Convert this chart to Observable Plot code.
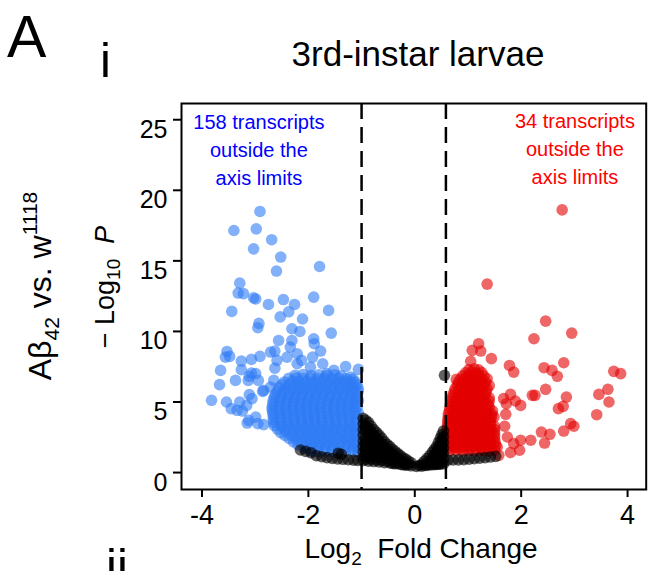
<!DOCTYPE html>
<html>
<head>
<meta charset="utf-8">
<script src="https://cdn.jsdelivr.net/npm/d3@7"></script>
<script src="https://cdn.jsdelivr.net/npm/@observablehq/plot@0.6"></script>
<style>
  html, body { margin: 0; padding: 0; background: #fff; }
  svg { display: block; }
</style>
</head>
<body>
<div id="chart"></div>
<script>
// ---- data (log2 fold change, -log10 P) ----
const xTicks = [-4, -2, 0, 2, 4];
const yTicks = [0, 5, 10, 15, 20, 25];
const foldCutoffs = [-1, 0.585];

const downregulated = [
  [-2.91,18.5],[-3.40,17.15],[-2.98,17.27],[-2.69,16.5],[-3.03,15.85],[-2.52,15.27],[-2.60,14.28],[-1.79,14.6],
  [-3.29,13.42],[-3.32,12.72],[-3.22,12.68],[-3.03,12.38],[-2.99,12.3],[-2.75,11.91],[-2.47,12.26],[-2.26,11.91],
  [-2.37,11.39],[-1.90,12.43],[-1.62,11.49],[-3.44,11.42],[-2.53,11.03],[-2.11,10.88],[-2.93,10.57],[-2.95,10.26],
  [-2.31,10.19],[-2.16,10.0],[-1.57,9.88],[-2.56,9.36],[-2.31,9.36],[-1.90,9.48],[-1.89,9.13],[-2.34,8.89],
  [-1.77,8.61],[-3.53,8.58],[-3.56,8.18],[-3.48,8.23],[-2.71,8.54],[-2.63,8.61],[-2.91,8.23],[-3.07,8.02],
  [-3.26,7.9],[-2.21,8.42],[-2.13,7.95],[-2.59,7.95],[-1.92,8.18],[-1.73,7.71],[-1.30,7.52],[-1.06,7.31],
  [-3.65,7.24],[-3.26,7.29],[-2.63,7.4],[-3.07,7.05],[-2.99,7.01],[-3.11,6.82],[-3.37,6.53],[-3.13,6.53],
  [-2.94,6.53],[-3.67,6.23],[-2.86,5.75],[-3.11,5.52],[-3.82,5.12],[-3.54,5.0],[-3.29,5.0],[-3.06,5.24],
  [-3.45,4.53],[-3.34,4.41],[-3.24,4.36],[-3.16,4.76],[-3.12,3.7],[-3.15,3.51],[-2.95,3.47],[-2.84,3.4],
  [-2.99,3.93],[-2.40,8.18],[-2.21,7.71],[-1.96,7.47],[-1.65,7.01],[-1.52,7.24],[-1.21,6.77],[-2.65,6.53],
  [-2.84,5.82],[-2.71,6.06],
  [-2.25,6.9],[-2.1,6.95],[-1.95,6.88],[-1.8,6.92],[-1.66,6.87],[-1.5,6.93],[-1.38,6.86],
  [-2.37,6.68],[-2.23,6.7],[-2.1,6.66],[-1.96,6.69],[-1.83,6.67],[-1.7,6.7],[-1.56,6.66],[-1.43,6.68],[-1.29,6.65],[-1.16,6.62],
  [-2.45,6.42],[-2.3,6.48],[-2.18,6.44],[-2.04,6.47],[-1.9,6.43],[-1.77,6.46],[-1.63,6.41],[-1.5,6.47],[-1.36,6.44],[-1.22,6.45],[-1.12,6.42],
  [-2.5,6.22],[-2.36,6.24],[-2.23,6.2],[-2.1,6.23],[-1.97,6.21],[-1.84,6.24],[-1.71,6.2],[-1.58,6.23],[-1.45,6.21],[-1.32,6.24],[-1.2,6.2],[-1.09,6.22],
  [-2.55,6.02],[-2.42,5.97],[-2.29,6.01],[-2.16,5.98],[-2.03,6.03],[-1.9,5.99],[-1.78,6.02],[-1.65,5.97],[-1.52,6.01],[-1.4,5.98],[-1.27,6.03],[-1.15,5.99],[-1.07,6.02],
  [-2.59,5.78],[-2.46,5.76],[-2.33,5.8],[-2.2,5.77],[-2.07,5.79],[-1.94,5.76],[-1.81,5.8],[-1.68,5.77],[-1.55,5.79],[-1.42,5.76],[-1.29,5.8],[-1.16,5.77],[-1.06,5.79],
  [-2.62,5.53],[-2.5,5.57],[-2.37,5.54],[-2.24,5.56],[-2.12,5.52],[-1.99,5.57],[-1.86,5.55],[-1.73,5.53],[-1.6,5.56],[-1.47,5.54],[-1.34,5.57],[-1.22,5.53],[-1.1,5.56],
  [-2.64,5.33],[-2.51,5.31],[-2.38,5.35],[-2.25,5.32],[-2.12,5.34],[-1.99,5.31],[-1.86,5.35],[-1.73,5.32],[-1.6,5.34],[-1.47,5.31],[-1.34,5.35],[-1.21,5.32],[-1.09,5.34],
  [-2.66,5.12],[-2.54,5.08],[-2.41,5.11],[-2.28,5.09],[-2.15,5.12],[-2.02,5.08],[-1.9,5.1],[-1.77,5.12],[-1.64,5.08],[-1.51,5.11],[-1.38,5.09],[-1.26,5.12],[-1.14,5.08],[-1.06,5.1],
  [-2.67,4.88],[-2.54,4.86],[-2.41,4.9],[-2.28,4.87],[-2.15,4.89],[-2.02,4.86],[-1.89,4.9],[-1.76,4.87],[-1.63,4.89],[-1.5,4.86],[-1.37,4.9],[-1.24,4.87],[-1.12,4.89],
  [-2.68,4.63],[-2.55,4.67],[-2.42,4.64],[-2.3,4.66],[-2.17,4.63],[-2.04,4.67],[-1.92,4.65],[-1.79,4.63],[-1.66,4.66],[-1.53,4.64],[-1.4,4.67],[-1.28,4.63],[-1.16,4.66],[-1.08,4.64],
  [-2.68,4.43],[-2.55,4.41],[-2.42,4.45],[-2.29,4.42],[-2.16,4.44],[-2.03,4.41],[-1.9,4.45],[-1.77,4.42],[-1.64,4.44],[-1.51,4.41],[-1.38,4.45],[-1.25,4.42],[-1.12,4.44],
  [-2.67,4.22],[-2.54,4.18],[-2.41,4.21],[-2.28,4.19],[-2.15,4.22],[-2.03,4.18],[-1.9,4.2],[-1.77,4.22],[-1.64,4.18],[-1.52,4.21],[-1.39,4.19],[-1.26,4.22],[-1.14,4.18],[-1.06,4.2],
  [-2.66,3.98],[-2.53,3.96],[-2.4,4.0],[-2.27,3.97],[-2.14,3.99],[-2.01,3.96],[-1.88,4.0],[-1.75,3.97],[-1.62,3.99],[-1.49,3.96],[-1.36,4.0],[-1.23,3.97],[-1.1,3.99],
  [-2.66,3.73],[-2.53,3.77],[-2.4,3.74],[-2.27,3.76],[-2.14,3.73],[-2.01,3.77],[-1.88,3.75],[-1.76,3.73],[-1.63,3.76],[-1.5,3.74],[-1.37,3.77],[-1.24,3.73],[-1.12,3.76],
  [-2.65,3.53],[-2.52,3.51],[-2.39,3.55],[-2.26,3.52],[-2.13,3.54],[-2.0,3.51],[-1.87,3.55],[-1.74,3.52],[-1.61,3.54],[-1.48,3.51],[-1.35,3.55],[-1.22,3.52],[-1.1,3.54],
  [-2.64,3.32],[-2.51,3.28],[-2.38,3.31],[-2.25,3.29],[-2.12,3.32],[-2.0,3.28],[-1.87,3.3],[-1.74,3.32],[-1.61,3.28],[-1.48,3.31],[-1.35,3.29],[-1.22,3.32],[-1.1,3.28],
  [-2.58,3.08],[-2.45,3.06],[-2.32,3.1],[-2.19,3.07],[-2.06,3.09],[-1.93,3.06],[-1.8,3.1],[-1.67,3.07],[-1.54,3.09],[-1.41,3.06],[-1.28,3.1],[-1.16,3.07],[-1.07,3.09],
  [-2.52,2.83],[-2.4,2.87],[-2.27,2.84],[-2.14,2.86],[-2.01,2.83],[-1.88,2.87],[-1.75,2.85],[-1.62,2.83],[-1.5,2.86],[-1.37,2.84],[-1.24,2.87],[-1.12,2.83],
  [-2.44,2.63],[-2.31,2.61],[-2.18,2.65],[-2.05,2.62],[-1.92,2.64],[-1.79,2.61],[-1.66,2.65],[-1.53,2.62],[-1.4,2.64],[-1.27,2.61],[-1.14,2.65],
  [-2.36,2.42],[-2.23,2.38],[-2.1,2.41],[-1.97,2.39],[-1.84,2.42],[-1.71,2.38],[-1.58,2.4],[-1.45,2.42],[-1.32,2.38],[-1.2,2.41],[-1.09,2.39],
  [-2.28,2.18],[-2.15,2.16],[-2.02,2.2],[-1.89,2.17],[-1.76,2.19],[-1.63,2.16],[-1.5,2.2],[-1.37,2.17],[-1.24,2.19],[-1.12,2.16],
  [-2.2,1.97],[-2.06,1.93],[-1.93,1.96],[-1.8,1.94],[-1.67,1.97],[-1.54,1.93],[-1.41,1.95],[-1.28,1.97],[-1.15,1.93],
  [-2.08,1.73],[-1.95,1.71],[-1.82,1.75],[-1.69,1.72],[-1.56,1.74],[-1.43,1.71],[-1.3,1.75],[-1.17,1.72],[-1.07,1.74],
  [-1.95,1.52],[-1.82,1.48],[-1.69,1.51],[-1.56,1.49],[-1.43,1.52],[-1.3,1.48],[-1.17,1.51],[-1.07,1.49]
];

const upregulated = [
  [2.77,18.61],[1.36,13.35],[2.46,10.73],[2.95,9.88],[2.24,9.48],[1.20,9.13],[1.08,8.66],[1.24,8.61],
  [1.44,8.07],[1.05,7.88],[2.80,7.78],[1.78,7.59],[1.86,7.12],[2.43,7.43],[2.58,7.24],[2.68,6.82],
  [3.74,7.17],[3.87,7.01],[0.78,6.6],[3.63,5.9],[2.46,5.9],[2.21,5.47],[2.26,5.47],[2.85,5.35],
  [3.46,5.54],[1.80,5.54],[1.67,5.24],[1.72,4.88],[1.99,4.76],[1.89,5.07],[2.70,4.53],[2.79,4.69],
  [3.65,5.0],[3.42,4.1],[1.71,4.13],[1.49,3.93],[2.93,3.47],[2.99,3.28],[1.69,3.28],[2.80,2.94],
  [2.38,2.87],[2.54,2.71],[2.44,2.09],[2.18,2.29],[1.99,2.29],[1.86,2.05],[1.97,1.58],[1.80,1.42],
  [1.74,2.52],[1.55,1.81],[1.42,2.29],[1.58,1.22],
  [1.02,7.3],[1.12,7.35],[1.2,7.28],
  [0.96,7.08],[1.06,7.1],[1.16,7.06],[1.26,7.09],
  [0.9,6.85],[1.0,6.88],[1.1,6.83],[1.2,6.87],[1.3,6.84],
  [0.86,6.62],[0.96,6.64],[1.06,6.6],[1.16,6.63],[1.26,6.61],[1.36,6.64],
  [0.82,6.4],[0.93,6.43],[1.03,6.38],[1.13,6.42],[1.23,6.39],[1.33,6.41],
  [0.8,6.18],[0.9,6.2],[1.0,6.16],[1.1,6.19],[1.2,6.17],[1.3,6.2],[1.4,6.16],
  [0.76,5.95],[0.86,5.98],[0.96,5.93],[1.06,5.97],[1.16,5.94],[1.26,5.96],[1.36,5.93],
  [0.74,5.72],[0.84,5.74],[0.94,5.7],[1.04,5.73],[1.14,5.71],[1.24,5.74],[1.34,5.7],
  [0.72,5.5],[0.82,5.53],[0.92,5.48],[1.02,5.52],[1.12,5.49],[1.22,5.51],[1.32,5.48],
  [0.7,5.28],[0.8,5.3],[0.9,5.26],[1.0,5.29],[1.1,5.27],[1.2,5.3],[1.3,5.26],[1.4,5.29],
  [0.68,5.05],[0.78,5.08],[0.88,5.03],[0.98,5.07],[1.08,5.04],[1.18,5.06],[1.3,5.03],[1.4,5.07],
  [0.67,4.82],[0.77,4.84],[0.87,4.8],[0.97,4.83],[1.07,4.81],[1.17,4.84],[1.27,4.8],[1.38,4.83],
  [0.66,4.6],[0.76,4.63],[0.86,4.58],[0.96,4.62],[1.06,4.59],[1.16,4.61],[1.28,4.58],[1.4,4.62],
  [0.65,4.38],[0.75,4.4],[0.85,4.36],[0.95,4.39],[1.05,4.37],[1.15,4.4],[1.25,4.36],[1.36,4.39],[1.46,4.37],
  [0.63,4.15],[0.73,4.18],[0.83,4.13],[0.93,4.17],[1.03,4.14],[1.13,4.16],[1.23,4.13],[1.35,4.17],[1.45,4.14],
  [0.63,3.92],[0.73,3.94],[0.83,3.9],[0.93,3.93],[1.03,3.91],[1.13,3.94],[1.23,3.9],[1.33,3.93],[1.44,3.91],
  [0.62,3.7],[0.72,3.73],[0.82,3.68],[0.92,3.72],[1.02,3.69],[1.12,3.71],[1.22,3.68],[1.32,3.72],[1.42,3.69],
  [0.62,3.48],[0.72,3.5],[0.82,3.46],[0.92,3.49],[1.02,3.47],[1.12,3.5],[1.22,3.46],[1.32,3.49],[1.42,3.47],
  [0.61,3.25],[0.71,3.28],[0.81,3.23],[0.91,3.27],[1.01,3.24],[1.11,3.26],[1.21,3.23],[1.31,3.27],[1.42,3.24],[1.5,3.26],
  [0.61,3.02],[0.71,3.04],[0.81,3.0],[0.91,3.03],[1.01,3.01],[1.11,3.04],[1.21,3.0],[1.31,3.03],[1.41,3.01],[1.5,3.04],
  [0.61,2.8],[0.71,2.83],[0.81,2.78],[0.91,2.82],[1.01,2.79],[1.11,2.81],[1.21,2.78],[1.31,2.82],[1.41,2.79],[1.5,2.81],
  [0.61,2.58],[0.71,2.6],[0.81,2.56],[0.91,2.59],[1.01,2.57],[1.11,2.6],[1.21,2.56],[1.31,2.59],[1.41,2.57],[1.5,2.6],
  [0.6,2.35],[0.7,2.38],[0.8,2.33],[0.9,2.37],[1.0,2.34],[1.1,2.36],[1.2,2.33],[1.3,2.37],[1.4,2.34],[1.5,2.36],
  [0.61,2.12],[0.71,2.14],[0.81,2.1],[0.91,2.13],[1.01,2.11],[1.11,2.14],[1.21,2.1],[1.31,2.13],[1.41,2.11],[1.51,2.14],
  [0.62,1.9],[0.72,1.93],[0.82,1.88],[0.92,1.92],[1.02,1.89],[1.12,1.91],[1.22,1.88],[1.32,1.92],[1.42,1.89],[1.52,1.91],
  [0.64,1.72],[0.74,1.74],[0.84,1.7],[0.94,1.73],[1.04,1.71],[1.14,1.74],[1.24,1.7],[1.34,1.73],[1.44,1.71],
  [0.66,1.55],[0.78,1.58],[0.9,1.53],[1.02,1.57],[1.14,1.54],[1.26,1.56],[1.38,1.53],[1.5,1.57]
];

const notSignificant = [
  [0.558,6.89],
  [-0.97,3.85],[-0.97,3.45],[-0.97,3.05],[-0.97,2.65],[-0.97,2.25],[-0.97,1.85],[-0.97,1.45],[-0.97,1.1],[-0.97,0.85],
  [-0.92,3.7],[-0.92,3.3],[-0.92,2.9],[-0.92,2.5],[-0.92,2.1],[-0.92,1.7],[-0.92,1.3],[-0.92,0.95],
  [-0.87,3.55],[-0.87,3.15],[-0.87,2.75],[-0.87,2.35],[-0.87,1.95],[-0.87,1.55],[-0.87,1.15],[-0.87,0.8],
  [-0.82,3.3],[-0.82,2.9],[-0.82,2.5],[-0.82,2.1],[-0.82,1.7],[-0.82,1.3],[-0.82,0.95],
  [-0.77,3.05],[-0.77,2.65],[-0.77,2.25],[-0.77,1.85],[-0.77,1.45],[-0.77,1.1],[-0.77,0.78],
  [-0.72,2.85],[-0.72,2.45],[-0.72,2.05],[-0.72,1.65],[-0.72,1.25],[-0.72,0.9],
  [-0.67,2.65],[-0.67,2.25],[-0.67,1.85],[-0.67,1.45],[-0.67,1.05],[-0.67,0.75],
  [-0.62,2.45],[-0.62,2.05],[-0.62,1.65],[-0.62,1.25],[-0.62,0.88],
  [-0.57,2.2],[-0.57,1.8],[-0.57,1.4],[-0.57,1.05],[-0.57,0.7],
  [-0.52,2.0],[-0.52,1.6],[-0.52,1.2],[-0.52,0.8],
  [-0.47,1.85],[-0.47,1.45],[-0.47,1.05],[-0.47,0.68],
  [-0.42,1.65],[-0.42,1.3],[-0.42,0.9],[-0.42,0.65],
  [-0.37,1.5],[-0.37,1.1],[-0.37,0.7],[-0.37,0.62],
  [-0.32,1.35],[-0.32,1.0],[-0.32,0.65],
  [-0.27,1.2],[-0.27,0.85],[-0.27,0.58],
  [-0.22,1.05],[-0.22,0.72],[-0.22,0.55],
  [-0.17,0.95],[-0.17,0.6],[-0.17,0.52],
  [-0.12,0.82],[-0.12,0.55],
  [-0.07,0.7],[-0.07,0.48],
  [0.03,0.43],[0.08,0.5],
  [0.13,0.6],[0.13,0.45],
  [0.18,0.8],[0.18,0.5],
  [0.23,1.0],[0.23,0.6],[0.23,0.5],
  [0.28,1.2],[0.28,0.8],[0.28,0.55],
  [0.33,1.45],[0.33,1.05],[0.33,0.65],[0.33,0.55],
  [0.37,1.65],[0.37,1.25],[0.37,0.85],[0.37,0.58],
  [0.41,1.85],[0.41,1.45],[0.41,1.05],[0.41,0.65],[0.41,0.58],
  [0.445,2.15],[0.445,1.75],[0.445,1.35],[0.445,0.95],[0.445,0.6],
  [0.48,2.45],[0.48,2.05],[0.48,1.65],[0.48,1.25],[0.48,0.85],[0.48,0.6],
  [0.51,2.7],[0.51,2.3],[0.51,1.9],[0.51,1.5],[0.51,1.1],[0.51,0.7],
  [0.54,2.95],[0.54,2.55],[0.54,2.15],[0.54,1.75],[0.54,1.35],[0.54,0.95],[0.54,0.62],
  [-2.15,1.6],[-2.05,1.5],[-1.95,1.4],[-1.85,1.2],[-1.75,1.12],[-1.65,1.06],[-1.55,1.0],[-1.45,0.97],
  [-1.35,0.94],[-1.25,0.91],[-1.15,0.88],[-1.07,0.86],[-1.44,1.36],[-1.38,1.3],
  [0.62,0.88],[0.72,0.9],[0.82,0.9],[0.92,0.92],[1.02,0.95],[1.12,0.98],[1.22,1.02],[1.32,1.06],[1.42,1.1],[1.52,1.15]
];

const notes = [
  {x: -2.93, y: 20.39, text: "158 transcripts\noutside the\naxis limits", color: "#0000ff"},
  {x: 3.01, y: 20.45, text: "34 transcripts\noutside the\naxis limits", color: "#ff0000"}
];

const FONT = "'Liberation Sans', Arial, Helvetica, sans-serif";
const R = 5.8;

const svg = Plot.plot({
  width: 648,
  height: 571,
  marginLeft: 181,
  marginRight: 2.3,
  marginTop: 103,
  marginBottom: 82,
  style: {fontFamily: FONT, background: "#fff", color: "#000"},
  x: {domain: [-4.385, 4.35]},
  y: {domain: [-1.2, 26.15]},
  marks: [
    Plot.dot(downregulated, {x: d => d[0], y: d => d[1], r: R, fill: "#2f7cf5", fillOpacity: 0.6, stroke: null}),
    Plot.dot(upregulated, {x: d => d[0], y: d => d[1], r: R, fill: "#e30000", fillOpacity: 0.6, stroke: null}),
    Plot.dot(notSignificant, {x: d => d[0], y: d => d[1], r: R, fill: "#000", fillOpacity: 0.62, stroke: null}),
    Plot.ruleX(foldCutoffs, {stroke: "#000", strokeWidth: 2.5, strokeDasharray: "16,8"}),
    Plot.text(notes, {x: "x", y: "y", text: "text", fill: "color", fontSize: 20, lineHeight: 1.39, lineAnchor: "bottom", textAnchor: "middle"}),
    Plot.frame({stroke: "#000", strokeWidth: 2}),
    Plot.axisX({ticks: xTicks, tickSize: 8, tickPadding: 7, strokeWidth: 2, fontSize: 27, tickFormat: d => String(d), label: null}),
    Plot.axisY({ticks: yTicks, tickSize: 8, strokeWidth: 2, tickFormat: () => "", label: null}),
    Plot.axisY({ticks: yTicks, tickSize: 0, tickPadding: 14, dy: 10, fontSize: 25, tickFormat: d => String(d), label: null})
  ]
});

const s = d3.select(svg);
s.style("overflow", "hidden");

function addText(x, y, size, str, anchor) {
  return s.append("text").attr("x", x).attr("y", y).attr("font-size", size)
    .attr("font-family", FONT).attr("fill", "#000").attr("text-anchor", anchor || "start").text(str);
}
addText(7, 57, 59, "A");
addText(100, 77, 49, "i");
addText(106, 583, 49, "ii");
addText(418, 66, 35, "3rd-instar larvae", "middle");

// x-axis title
const xl = s.append("text").attr("x", 421).attr("y", 558).attr("font-size", 28)
  .attr("font-family", FONT).attr("text-anchor", "middle").attr("fill", "#000");
xl.append("tspan").text("Log");
xl.append("tspan").attr("font-size", 19).attr("dy", 7).text("2");
xl.append("tspan").attr("dy", -7).text("\u00a0 Fold Change");

// y-axis title
const yl = s.append("text").attr("transform", "translate(114,287) rotate(-90)").attr("font-size", 27)
  .attr("font-family", FONT).attr("fill", "#000").attr("text-anchor", "middle");
yl.append("tspan").text("\u2212\u00a0Log");
yl.append("tspan").attr("font-size", 19).attr("dy", 6).text("10");
yl.append("tspan").attr("dy", -6).text("\u00a0\u00a0");
yl.append("tspan").attr("font-style", "italic").text("P");

// row label
const rl = s.append("text").attr("transform", "translate(51,286) rotate(-90)").attr("font-size", 32)
  .attr("font-family", FONT).attr("fill", "#000").attr("text-anchor", "middle");
rl.append("tspan").text("A\u03b2");
rl.append("tspan").attr("font-size", 21).attr("dy", 8).text("42");
rl.append("tspan").attr("dy", -8).text(" vs. w");
rl.append("tspan").attr("font-size", 21).attr("dy", -14).text("1118");

document.getElementById("chart").appendChild(svg);
</script>
</body>
</html>
